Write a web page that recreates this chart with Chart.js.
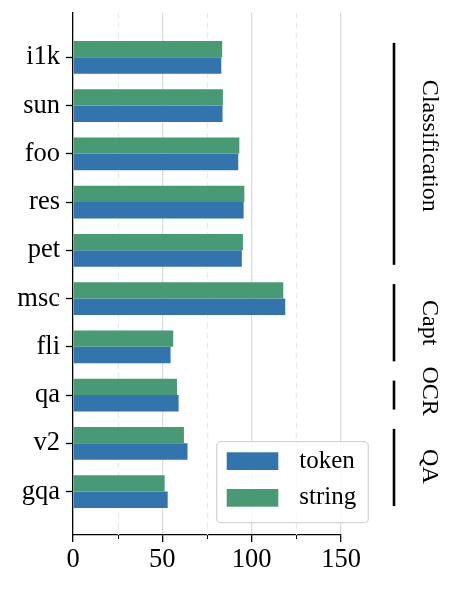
<!DOCTYPE html>
<html><head><meta charset="utf-8">
<script src="https://cdn.jsdelivr.net/npm/chart.js@4.4.0/dist/chart.umd.min.js"></script>
<style>html,body{margin:0;padding:0;background:#fff;}#wrap{width:456px;height:589px;}</style>
</head><body>
<div id="wrap"><canvas id="c" width="456" height="589"></canvas></div>
<script>
const categories = ['i1k','sun','foo','res','pet','msc','fli','qa','v2','gqa'];
const tokenValues  = [83.0, 83.7, 92.5, 95.5, 94.5, 118.8, 54.6, 59.1, 64.1, 53.0];
const stringValues = [83.5, 83.9, 93.1, 95.9, 95.1, 117.7, 56.1, 58.2, 62.1, 51.3];
const xMajorTicks = [0, 50, 100, 150];
const xMinorTicks = [25, 75, 125];
const groupNames = ['Classification', 'Capt', 'OCR', 'QA'];
const groupFirst = ['i1k', 'msc', 'qa', 'v2'];
const groupLast  = ['pet', 'fli', 'qa', 'gqa'];
const seriesNames = ['token', 'string'];
const seriesColors = ['#3274ae', '#489a74'];

const FONT = "'Liberation Serif', 'Times New Roman', serif";
// small vertical nudges (px) for the rotated group labels
const labelNudge = { Classification: -8, Capt: 0, OCR: -4, QA: -1 };

const extras = {
  id: 'extras',
  beforeDatasetsDraw(chart) {
    const {ctx, chartArea: a, scales: {x}} = chart;
    ctx.save();
    ctx.strokeStyle = '#ebebeb';
    ctx.lineWidth = 1.3;
    ctx.setLineDash([6, 4]);
    xMinorTicks.forEach(v => {
      const px = Math.round(x.getPixelForValue(v)) + 0.5;
      ctx.beginPath(); ctx.moveTo(px, a.top); ctx.lineTo(px, a.bottom); ctx.stroke();
    });
    ctx.restore();
  },
  afterDraw(chart) {
    const {ctx, chartArea: a, scales: {x, y}} = chart;
    ctx.save();
    // minor tick marks
    ctx.strokeStyle = '#000'; ctx.lineWidth = 1;
    xMinorTicks.forEach(v => {
      const px = Math.round(x.getPixelForValue(v)) + 0.5;
      ctx.beginPath(); ctx.moveTo(px, a.bottom); ctx.lineTo(px, a.bottom + 4); ctx.stroke();
    });
    // group brackets
    const lineX = a.right + 53;
    const textX = a.right + 82;
    ctx.font = '24px ' + FONT;
    ctx.fillStyle = '#000';
    groupNames.forEach((name, g) => {
      const i0 = categories.indexOf(groupFirst[g]);
      const i1 = categories.indexOf(groupLast[g]);
      const yTop = y.getPixelForValue(i0 - 0.3);
      const yBot = y.getPixelForValue(i1 + 0.3);
      ctx.strokeStyle = '#000'; ctx.lineWidth = 2.6;
      ctx.beginPath(); ctx.moveTo(lineX, yTop); ctx.lineTo(lineX, yBot); ctx.stroke();
      const yc = y.getPixelForValue((i0 + i1) / 2) + (labelNudge[name] || 0);
      ctx.save();
      ctx.translate(textX, yc);
      ctx.rotate(Math.PI / 2);
      ctx.textAlign = 'center';
      ctx.textBaseline = 'alphabetic';
      ctx.fillText(name, 0, 0);
      ctx.restore();
    });
    // legend
    const bx = a.right - 124.3, by = a.bottom - 93.3, bw = 151.6, bh = 81;
    ctx.beginPath();
    ctx.roundRect(bx, by, bw, bh, 4);
    ctx.fillStyle = 'rgba(255,255,255,0.85)';
    ctx.fill();
    ctx.strokeStyle = '#d6d6d6'; ctx.lineWidth = 1.3;
    ctx.stroke();
    ctx.font = '25px ' + FONT;
    ctx.textAlign = 'left'; ctx.textBaseline = 'middle';
    seriesNames.forEach((n, k) => {
      const sy = by + 10.6 + k * 36.7;
      ctx.fillStyle = seriesColors[k];
      ctx.fillRect(bx + 10, sy, 51.6, 17.7);
      ctx.fillStyle = '#000';
      ctx.fillText(n, bx + 82.6, sy + 8.9);
    });
    ctx.restore();
  }
};

new Chart(document.getElementById('c').getContext('2d'), {
  type: 'bar',
  data: {
    datasets: [
      { label: seriesNames[1], data: stringValues.map((v, i) => ({x: v, y: i})), backgroundColor: seriesColors[1] },
      { label: seriesNames[0], data: tokenValues.map((v, i) => ({x: v, y: i})), backgroundColor: seriesColors[0] }
    ]
  },
  options: {
    indexAxis: 'y',
    responsive: false,
    animation: false,
    devicePixelRatio: 1,
    layout: { padding: { left: 0, right: 115, top: 12.5, bottom: 0 } },
    datasets: { bar: { categoryPercentage: 0.68, barPercentage: 1 } },
    plugins: { legend: { display: false }, tooltip: { enabled: false } },
    scales: {
      x: {
        type: 'linear', position: 'bottom', min: 0, max: 150, offset: false,
        afterBuildTicks: s => { s.ticks = xMajorTicks.map(v => ({value: v})); },
        afterFit: s => { s.height = 54; },
        grid: {
          offset: false,
          color: c => (c.tick && c.tick.value === 0) ? 'rgba(0,0,0,0)' : '#dcdcdc',
          lineWidth: 1.3, tickColor: '#000', tickLength: 7, tickWidth: 1.3
        },
        border: { color: '#000', width: 1.3 },
        ticks: { font: { family: FONT, size: 26.5 }, color: '#000', padding: 2, maxRotation: 0, autoSkip: false }
      },
      y: {
        type: 'linear', reverse: true, min: -0.93, max: 9.9, offset: false,
        afterBuildTicks: s => { s.ticks = categories.map((c, i) => ({value: i})); },
        afterFit: s => { s.width = 73; s.paddingTop = 0; s.paddingBottom = 0; },
        grid: { offset: false, drawOnChartArea: false, tickColor: '#000', tickLength: 7, tickWidth: 1.3 },
        border: { color: '#000', width: 1.3 },
        ticks: { font: { family: FONT, size: 26.5 }, color: '#000', padding: 6, autoSkip: false,
                 callback: v => categories[v] }
      }
    }
  },
  plugins: [extras]
});
</script>
</body></html>
